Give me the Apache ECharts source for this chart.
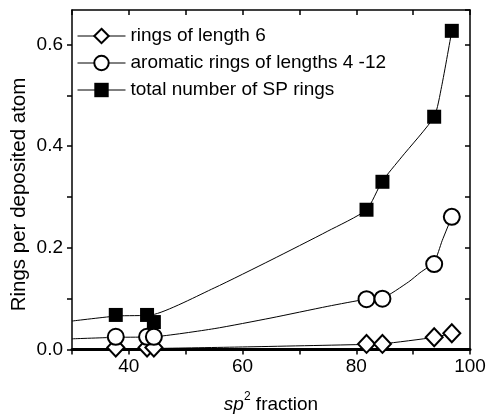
<!DOCTYPE html>
<html>
<head>
<meta charset="utf-8">
<script src="https://cdn.jsdelivr.net/npm/echarts@6/dist/echarts.min.js"></script>
<style>html,body{margin:0;padding:0;background:#fff}#c{width:488px;height:414px}</style>
</head>
<body>
<div id="c"></div>
<script>
// sp2 fraction (x) shared by the three data sets
const sp2 = [37.7, 43.2, 44.4, 81.8, 84.6, 93.7, 96.8];
// measured values (rings per deposited atom)
const ringsLen6 = [0.004, 0.004, 0.004, 0.011, 0.011, 0.024, 0.032];
const aromatic = [0.025, 0.025, 0.025, 0.099, 0.100, 0.168, 0.261];
const totalSP = [0.068, 0.068, 0.054, 0.275, 0.330, 0.458, 0.627];
// guide curves: [x, y]
const curveLen6X = [30, 44.4, 60, 81.8, 84.6, 93.7, 96.8];
const curveLen6Y = [0.0, 0.002, 0.005, 0.010, 0.011, 0.024, 0.032];
const curveAroX = [30, 38, 44.4, 55, 65, 75, 81.8, 84.6, 89.2, 91.2, 93.7, 95.1, 96.8];
const curveAroY = [0.021, 0.024, 0.025, 0.041, 0.062, 0.085, 0.099, 0.101, 0.133, 0.151, 0.172, 0.214, 0.261];
const curveTotX = [30, 38, 44, 55, 65, 75, 81.8, 84.5, 88, 93.7, 95.0, 96.8];
const curveTotY = [0.056, 0.066, 0.068, 0.121, 0.176, 0.233, 0.275, 0.330, 0.379, 0.458, 0.517, 0.627];
// legend labels
const names = ['rings of length 6', 'aromatic rings of lengths 4 -12', 'total number of SP rings'];
// axis ticks
const xTicks = {min: 30, max: 100, interval: 10};
const yTicks = {min: 0, max: 0.668, interval: 0.1};

const FONT = "'Liberation Sans', Arial, sans-serif";
const zip = (xs, ys) => xs.map((x, i) => [x, ys[i]]);

const chart = echarts.init(document.getElementById('c'), null, {renderer: 'canvas'});

const curve = (xs, ys) => ({
  type: 'line', data: zip(xs, ys), smooth: 0.2, showSymbol: false, symbol: 'none',
  lineStyle: {color: '#000', width: 1}, silent: true, z: 2, legendHoverLink: false
});
const marks = (name, ys, symbol, size, filled) => ({
  type: 'line', name, data: zip(sp2, ys), symbol, symbolSize: size, showSymbol: true,
  lineStyle: {opacity: 0, width: 1, color: '#000'},
  itemStyle: filled ? {color: '#000', borderColor: '#000', borderWidth: 0}
                    : {color: '#fff', borderColor: '#000', borderWidth: 2},
  z: 5
});

const axisCommon = {
  type: 'value', splitLine: {show: false},
  axisLine: {show: true, lineStyle: {color: '#000', width: 1.5}}
};

chart.setOption({
  animation: false,
  textStyle: {fontFamily: FONT},
  grid: {left: 72, right: 18, top: 10, bottom: 64.5, containLabel: false, outerBoundsMode: 'none'},
  legend: {
    left: 77, top: 26.5, padding: 0, orient: 'vertical', itemWidth: 48, itemHeight: 18, itemGap: 8,
    textStyle: {fontFamily: FONT, fontSize: 19, color: '#000'},
    lineStyle: {color: '#000', width: 1, opacity: 1},
    data: names
  },
  xAxis: [
    Object.assign({}, axisCommon, {
      position: 'bottom', min: xTicks.min, max: xTicks.max, interval: xTicks.interval,
      axisLine: {show: true, onZero: false, lineStyle: {color: '#000', width: 3}},
      axisTick: {show: true, inside: false, length: 5, lineStyle: {color: '#000', width: 1.5}},
      axisLabel: {show: true, margin: 8, fontSize: 19, color: '#000', fontFamily: FONT,
        showMinLabel: true, showMaxLabel: true,
        formatter: v => (Math.round(v) % 20 === 0 ? String(Math.round(v)) : '')},
      name: '{i|sp}{s|2}{n| fraction}', nameLocation: 'middle', nameGap: 41,
      nameTextStyle: {rich: {
        i: {fontSize: 19, fontStyle: 'italic', fontFamily: FONT, color: '#000', lineHeight: 24, verticalAlign: 'bottom'},
        s: {fontSize: 12, fontFamily: FONT, color: '#000', lineHeight: 12, verticalAlign: 'top'},
        n: {fontSize: 19, fontFamily: FONT, color: '#000', lineHeight: 24, verticalAlign: 'bottom'}
      }}
    }),
    Object.assign({}, axisCommon, {
      position: 'top', min: xTicks.min, max: xTicks.max, interval: xTicks.interval,
      axisLine: {show: true, onZero: false, lineStyle: {color: '#000', width: 1.5}},
      axisTick: {show: true, inside: true, length: 5, lineStyle: {color: '#000', width: 1.5}},
      axisLabel: {show: false}
    })
  ],
  yAxis: [
    Object.assign({}, axisCommon, {
      position: 'left', min: yTicks.min, max: yTicks.max, interval: yTicks.interval,
      axisLine: {show: true, onZero: false, lineStyle: {color: '#000', width: 1.5}},
      axisTick: {show: true, inside: false, length: 5, lineStyle: {color: '#000', width: 1.5}},
      axisLabel: {show: true, margin: 9, fontSize: 19, color: '#000', fontFamily: FONT, showMaxLabel: false,
        formatter: v => (Math.round(v * 10) % 2 === 0 ? v.toFixed(1) : '')}
    }),
    Object.assign({}, axisCommon, {
      position: 'right', min: yTicks.min, max: yTicks.max, interval: yTicks.interval,
      axisLine: {show: true, onZero: false, lineStyle: {color: '#000', width: 1.5}},
      axisTick: {show: true, inside: true, length: 5, lineStyle: {color: '#000', width: 1.5}},
      axisLabel: {show: false}
    })
  ],
  graphic: [{
    type: 'text', x: 19.5, y: 194.5, rotation: Math.PI / 2,
    style: {text: 'Rings per deposited atom', fontSize: 20.5, fontFamily: FONT, fill: '#000',
      align: 'center', verticalAlign: 'middle'}
  }],
  series: [
    curve(curveLen6X, curveLen6Y),
    curve(curveAroX, curveAroY),
    curve(curveTotX, curveTotY),
    marks(names[0], ringsLen6, 'diamond', [17, 18], false),
    marks(names[1], aromatic, 'circle', 16, false),
    marks(names[2], totalSP, 'rect', 14, true)
  ]
});
</script>
</body>
</html>
